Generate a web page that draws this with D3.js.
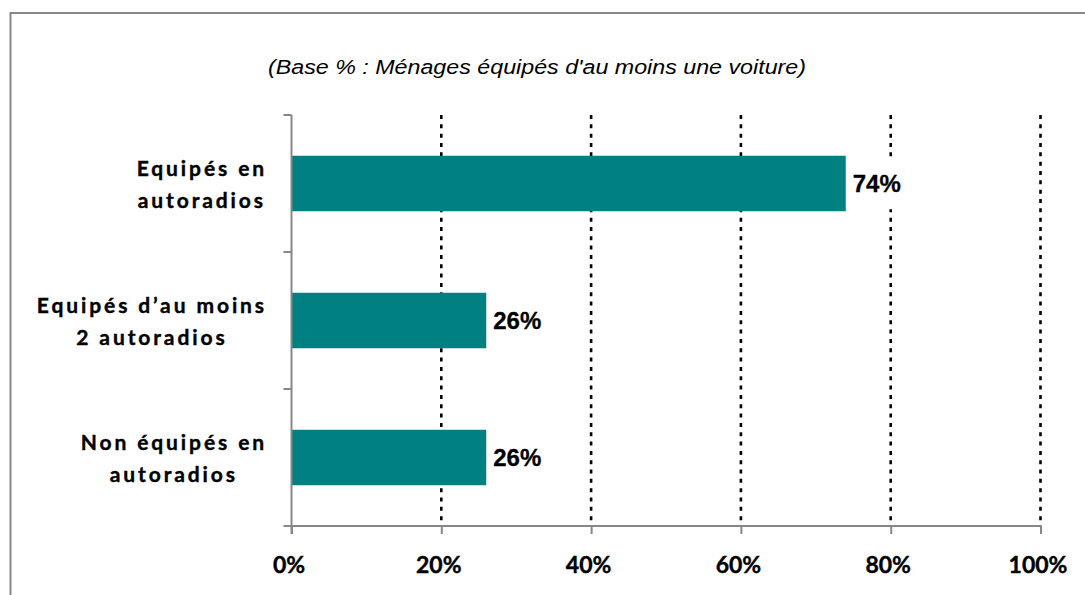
<!DOCTYPE html>
<html>
<head>
<meta charset="utf-8">
<script src="https://cdn.jsdelivr.net/npm/d3@7"></script>
<style>
  html, body { margin: 0; padding: 0; background: #fff; }
  svg { display: block; }
</style>
</head>
<body>
<svg id="chart" width="1085" height="595"></svg>
<script>
// ---- data ----
const title = "(Base % : Ménages équipés d'au moins une voiture)";
const categories = [
  ["Equipés en", "autoradios"],
  ["Equipés d\u2019au moins", "2 autoradios"],
  ["Non équipés en", "autoradios"]
];
const values = [0.74, 0.26, 0.26];
const valueLabels = ["74%", "26%", "26%"];
const tickValues = [0, 0.2, 0.4, 0.6, 0.8, 1.0];
const tickLabels = ["0%", "20%", "40%", "60%", "80%", "100%"];

// ---- layout ----
const svg = d3.select("#chart");
const W = 1085, H = 595;
const plot = { left: 291.5, right: 1040.5, top: 115, bottom: 526 };
const labelFont = "Lato, 'Open Sans', sans-serif";

// outer frame
svg.append("rect")
  .attr("x", 10.5).attr("y", 13).attr("width", W + 10).attr("height", H + 10)
  .attr("fill", "#fff").attr("stroke", "#878787").attr("stroke-width", 2);

// title
svg.append("text")
  .attr("x", 268).attr("y", 74)
  .attr("font-family", "'Liberation Sans', Arial, sans-serif")
  .attr("font-style", "italic")
  .attr("font-size", 20)
  .attr("textLength", 538)
  .attr("lengthAdjust", "spacingAndGlyphs")
  .attr("fill", "#000")
  .text(title);

const x = d3.scaleLinear().domain([0, 1]).range([plot.left, plot.right]);
const catKeys = categories.map(c => c.join(" "));
const y = d3.scaleBand().domain(catKeys).range([plot.top, plot.bottom])
  .paddingInner(0.595).paddingOuter(0.2975);

// gridlines
svg.append("g").selectAll("line")
  .data(tickValues.filter(v => v > 0))
  .join("line")
  .attr("x1", d => x(d)).attr("x2", d => x(d))
  .attr("y1", plot.top).attr("y2", plot.bottom)
  .attr("stroke", "#000").attr("stroke-width", 2.6)
  .attr("stroke-dasharray", "4,5.33");

// bars
svg.append("g").selectAll("rect")
  .data(values)
  .join("rect")
  .attr("x", x(0))
  .attr("y", (d, i) => y(catKeys[i]))
  .attr("width", d => x(d) - x(0))
  .attr("height", y.bandwidth())
  .attr("fill", "#008080");

// value labels (with white backing that hides the gridline behind them)
const vl = svg.append("g").selectAll("g")
  .data(values)
  .join("g");
vl.append("rect")
  .attr("x", d => x(d) + 3)
  .attr("y", (d, i) => y(catKeys[i]) + 2)
  .attr("width", 58)
  .attr("height", y.bandwidth() - 4)
  .attr("fill", "#fff");
vl.append("text")
  .attr("x", d => x(d) + 7)
  .attr("y", (d, i) => y(catKeys[i]) + y.bandwidth() / 2 + 8.5)
  .attr("font-family", "'Liberation Sans', Arial, sans-serif")
  .attr("font-weight", "bold")
  .attr("font-size", 24)
  .attr("fill", "#000")
  .attr("stroke", "#000").attr("stroke-width", 0.3)
  .text((d, i) => valueLabels[i]);

// bottom axis
const xAxis = d3.axisBottom(x)
  .tickValues(tickValues)
  .tickFormat((d, i) => tickLabels[i])
  .tickSize(8)
  .tickPadding(0);
const gx = svg.append("g").attr("transform", `translate(0,${plot.bottom})`).call(xAxis);
gx.select(".domain").attr("stroke", "#878787").attr("stroke-width", 2)
  .attr("d", `M${plot.left},0H${plot.right}`);
gx.selectAll(".tick line").attr("stroke", "#878787").attr("stroke-width", 2);
gx.selectAll(".tick text")
  .attr("y", 47).attr("dy", 0).attr("dx", -3)
  .attr("font-family", labelFont)
  .attr("font-weight", "bold")
  .attr("font-size", 23)
  .attr("fill", "#000")
  .attr("stroke", "#000").attr("stroke-width", 0.4);

// left axis (ticks at band boundaries)
const step = y.step();
const boundaries = d3.range(categories.length + 1).map(i => plot.top + i * step);
const gy = svg.append("g");
gy.append("line")
  .attr("x1", plot.left).attr("x2", plot.left)
  .attr("y1", plot.top).attr("y2", plot.bottom + 8)
  .attr("stroke", "#878787").attr("stroke-width", 2);
gy.selectAll("line.tk").data(boundaries).join("line").attr("class", "tk")
  .attr("x1", plot.left - 8).attr("x2", plot.left)
  .attr("y1", d => d).attr("y2", d => d)
  .attr("stroke", "#878787").attr("stroke-width", 2);

// category labels (block right-aligned, lines centered)
const labelRight = 267;
categories.forEach((lines, i) => {
  const cy = y(catKeys[i]) + y.bandwidth() / 2;
  const g = svg.append("g");
  const texts = lines.map((ln, j) => g.append("text")
    .attr("y", cy - 8 + j * 32)
    .attr("text-anchor", "middle")
    .attr("font-family", labelFont)
    .attr("font-weight", "bold")
    .attr("font-size", 21)
    .attr("letter-spacing", "2.9px")
    .attr("fill", "#000")
    .attr("stroke", "#000").attr("stroke-width", 0.4)
    .text(ln));
  const maxW = d3.max(texts, t => t.node().getComputedTextLength());
  texts.forEach(t => t.attr("x", labelRight - maxW / 2));
});
</script>
</body>
</html>
